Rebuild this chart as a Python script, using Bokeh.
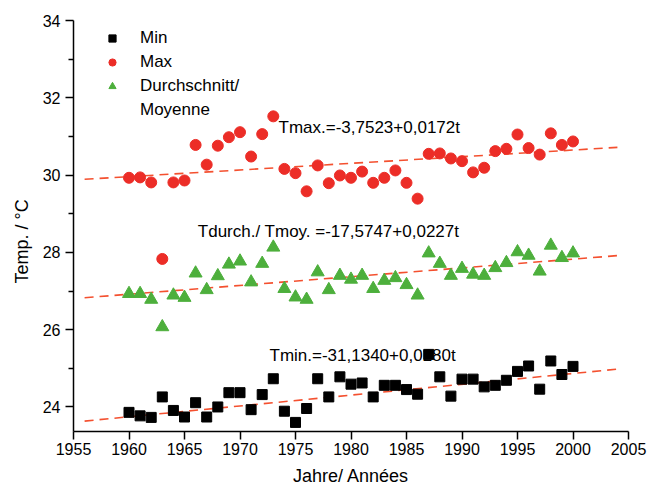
from bokeh.plotting import figure
from bokeh.models import Range1d, FixedTicker, Label, Legend, LegendItem, Title
from bokeh.embed import file_html
from bokeh.resources import INLINE

# ---- data ----
years = list(range(1960, 2001))
t_min = [23.86, 23.77, 23.73, 24.26, 23.91, 23.74, 24.11, 23.74, 24.00, 24.37,
         24.37, 23.93, 24.32, 24.73, 23.89, 23.60, 23.96, 24.73, 24.26, 24.78,
         24.59, 24.62, 24.26, 24.56, 24.56, 24.45, 24.33, 25.36, 24.78, 24.28,
         24.72, 24.72, 24.52, 24.56, 24.69, 24.92, 25.06, 24.46, 25.19, 24.84,
         25.05]
t_max = [29.93, 29.94, 29.81, 27.83, 29.81, 29.86, 30.78, 30.27, 30.76, 30.98,
         31.11, 30.48, 31.06, 31.52, 30.16, 30.05, 29.58, 30.25, 29.79, 29.99,
         29.93, 30.09, 29.80, 29.93, 30.12, 29.80, 29.39, 30.55, 30.56, 30.43,
         30.36, 30.07, 30.19, 30.62, 30.68, 31.05, 30.70, 30.53, 31.08, 30.78,
         30.87]
t_avg = [26.93, 26.93, 26.78, 26.07, 26.89, 26.83, 27.46, 27.03, 27.39, 27.69,
         27.77, 27.23, 27.71, 28.13, 27.06, 26.84, 26.78, 27.49, 27.03, 27.40,
         27.30, 27.40, 27.06, 27.27, 27.34, 27.16, 26.89, 27.98, 27.71, 27.40,
         27.58, 27.43, 27.40, 27.60, 27.73, 28.01, 27.92, 27.51, 28.18, 27.86,
         27.98]

# linear trends T = a + b * t
fit_years = [1956, 2004]
fit_min = [-31.1340, 0.0280]
fit_max = [-3.7523, 0.0172]
fit_avg = [-17.5747, 0.0227]

eq_min = "Tmin.=-31,1340+0,0280t"
eq_max = "Tmax.=-3,7523+0,0172t"
eq_avg = "Tdurch./ Tmoy. =-17,5747+0,0227t"

x_title = "Jahre/ Années"
y_title = "Temp. / °C"

x_ticks = [1955, 1960, 1965, 1970, 1975, 1980, 1985, 1990, 1995, 2000, 2005]
y_ticks = [24, 26, 28, 30, 32, 34]
y_minor = [25, 27, 29, 31, 33]

FONT = "Liberation Sans"
RED = "#ec2d27"
GREEN = "#4daf3c"
DASH = "#f4502f"

p = figure(width=649, height=493,
           x_range=Range1d(1955, 2005), y_range=Range1d(23.365, 34),
           output_backend="svg", toolbar_location=None,
           min_border_left=73, min_border_right=21,
           min_border_top=20, min_border_bottom=62,
           x_axis_label=x_title)
p.outline_line_color = None
p.grid.visible = False
p.background_fill_color = "white"

p.xaxis.ticker = FixedTicker(ticks=x_ticks, minor_ticks=[])
p.yaxis.ticker = FixedTicker(ticks=y_ticks, minor_ticks=y_minor)

for ax in (p.xaxis[0], p.yaxis[0]):
    ax.axis_line_width = 1.5
    ax.axis_line_color = "black"
    ax.major_tick_line_width = 1.5
    ax.minor_tick_line_width = 1.5
    ax.major_tick_out = 8
    ax.major_tick_in = 0
    ax.minor_tick_out = 5
    ax.minor_tick_in = 0
    ax.major_label_text_font = FONT
    ax.major_label_text_font_size = "16px"
    ax.major_label_text_color = "black"
    ax.axis_label_text_font = FONT
    ax.axis_label_text_font_size = "18px"
    ax.axis_label_text_font_style = "normal"
    ax.axis_label_text_color = "black"

p.xaxis.major_label_standoff = 3
p.xaxis.axis_label_standoff = 8
p.yaxis.major_label_standoff = 5

# y-axis title as a side title, shifted a little below the middle
p.add_layout(Title(text=y_title, align="left", offset=148, standoff=15,
                   text_font=FONT, text_font_size="18px",
                   text_font_style="normal", text_color="black"), "left")

# trend lines (from the fit coefficients)
for a, b in (fit_max, fit_avg, fit_min):
    p.line(fit_years, [a + b * t for t in fit_years],
           line_color=DASH, line_width=1.6, line_dash="9 6")

for x, y, txt in ((1973.47, 31.23, eq_max),
                  (1966.2, 28.53, eq_avg),
                  (1972.66, 25.32, eq_min)):
    p.add_layout(Label(x=x, y=y, text=txt, text_baseline="middle",
                       text_align="left", text_font=FONT, level="underlay",
                       text_font_size="17px", text_color="black"))

r_min = p.scatter(years, t_min, marker="square", size=10,
                  fill_color="black", line_color="black")
r_max = p.scatter(years, t_max, marker="circle", size=11,
                  fill_color=RED, line_color=RED)
r_avg = p.scatter(years, t_avg, marker="triangle", size=13,
                  fill_color=GREEN, line_color=GREEN)
r_blank = p.scatter([], [], marker="triangle", size=1,
                    fill_alpha=0, line_alpha=0)

legend = Legend(items=[LegendItem(label="Min", renderers=[r_min]),
                       LegendItem(label="Max", renderers=[r_max]),
                       LegendItem(label="Durchschnitt/", renderers=[r_avg]),
                       LegendItem(label="Moyenne", renderers=[r_blank])],
                location=(30, 311), glyph_width=18, glyph_height=20,
                label_height=20, spacing=4, padding=0, margin=0,
                label_standoff=19, border_line_color=None,
                background_fill_alpha=0,
                label_text_font=FONT, label_text_font_size="17px",
                label_text_color="black")
p.add_layout(legend)

open("out.html", "w").write(file_html(p, INLINE))
